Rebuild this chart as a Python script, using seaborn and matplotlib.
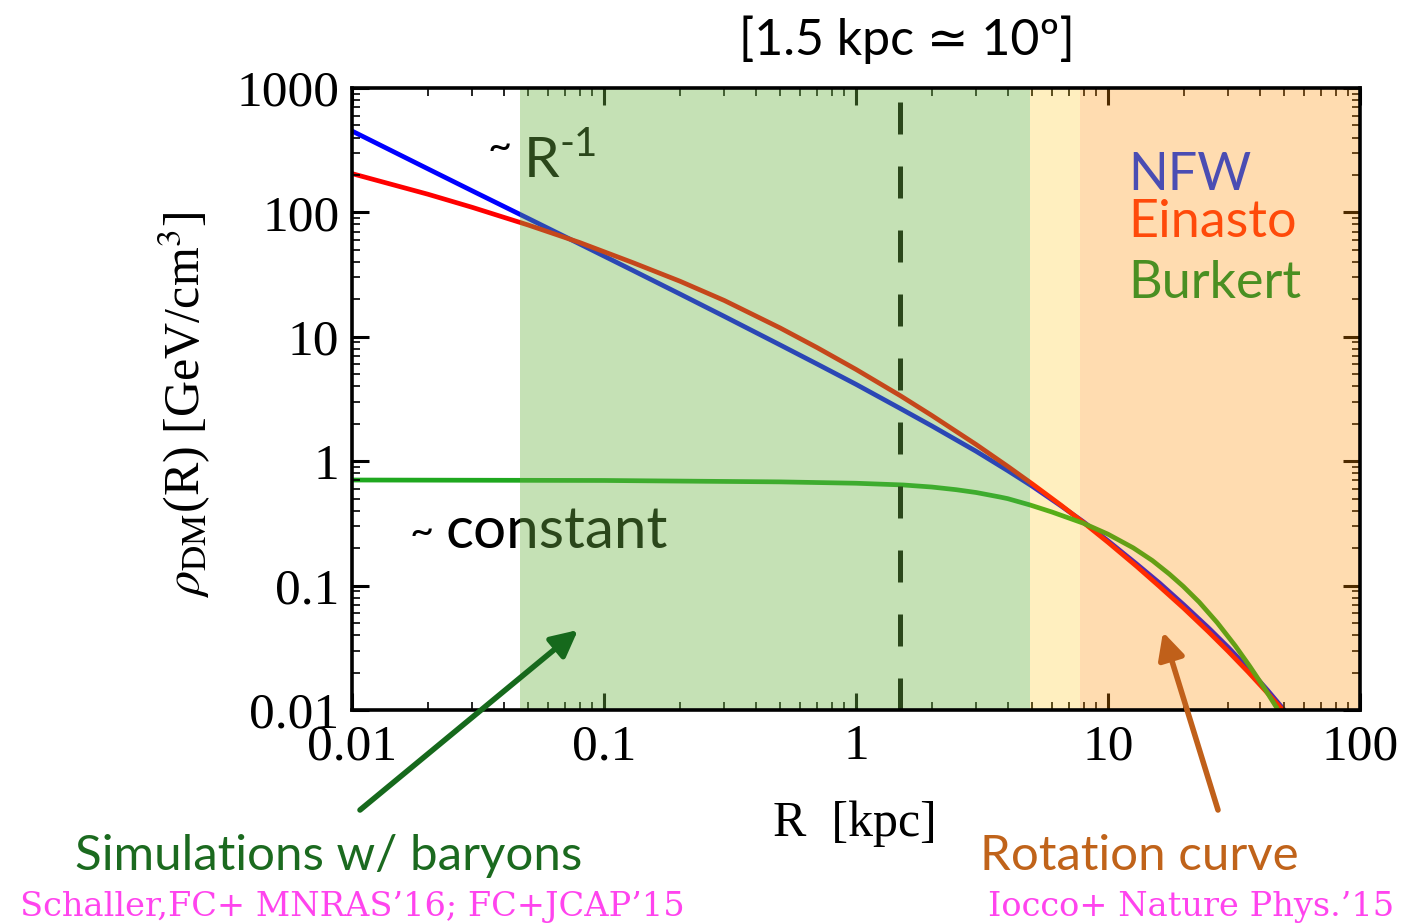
import numpy as np
import pandas as pd
import seaborn as sns
import matplotlib
matplotlib.use("Agg")
import matplotlib.pyplot as plt
from matplotlib.ticker import LogLocator, NullFormatter, FixedLocator, FixedFormatter

# Dark-matter density profiles, rho_DM(R) in GeV/cm^3 versus R in kpc
r_nfw = [0.01, 0.02, 0.03, 0.05, 0.08, 0.13, 0.2, 0.3, 0.5, 0.7, 1.0, 1.5, 2.0, 3.0, 4.0, 5.0,
         6.5, 8.0, 10.0, 13.0, 16.0, 20.0, 25.0, 30.0, 36.0, 43.0, 50.0]
rho_nfw = [451, 224, 149, 89.5, 55.8, 34.2, 22.1, 14.6, 8.6, 6.05, 4.15, 2.65, 1.92, 1.2, 0.84,
           0.63, 0.438, 0.325, 0.229, 0.149, 0.105, 0.070, 0.0459, 0.0319, 0.0216, 0.0144,
           0.0100]

r_einasto = [0.01, 0.02, 0.03, 0.05, 0.08, 0.13, 0.2, 0.3, 0.5, 0.7, 1.0, 1.5, 2.0, 3.0, 4.0,
             5.0, 6.5, 8.0, 10.0, 13.0, 16.0, 20.0, 25.0, 30.0, 36.0, 43.0, 50.0]
rho_einasto = [205, 140, 109.8, 79.2, 57.3, 39.5, 28.0, 19.6, 11.78, 8.2, 5.47, 3.36, 2.33, 1.36,
               0.909, 0.658, 0.444, 0.3206, 0.2228, 0.1426, 0.0985, 0.0656, 0.0427, 0.0296,
               0.0202, 0.01366, 0.00969]

r_burkert = [0.01, 0.1, 0.24, 0.5, 1.0, 1.54, 2.0, 2.5, 3.0, 3.73, 4.0, 4.9, 6.0, 7.96, 10.0,
             12.6, 15.0, 17.5, 19.9, 23.0, 27.1, 32.0, 36.5, 42.0, 46.9]
rho_burkert = [0.706, 0.70, 0.69, 0.682, 0.665, 0.644, 0.62, 0.59, 0.56, 0.515, 0.50, 0.445,
               0.39, 0.318, 0.259, 0.201, 0.159, 0.124, 0.0985, 0.0737, 0.0505, 0.0328,
               0.0225, 0.0147, 0.0103]

profiles = ["NFW", "Einasto", "Burkert"]
profile_colors = {"NFW": "#0000ff", "Einasto": "#ff0000", "Burkert": "#1fa81f"}
label_colors = {"NFW": "#4a4db3", "Einasto": "#ff4a0a", "Burkert": "#4a8f22"}

x_ticks = [0.01, 0.1, 1, 10, 100]
x_ticklabels = ["0.01", "0.1", "1", "10", "100"]
y_ticks = [0.01, 0.1, 1, 10, 100, 1000]
y_ticklabels = ["0.01", "0.1", "1", "10", "100", "1000"]

# Radial ranges probed by simulations (green), transition (yellow), rotation curves (orange)
sim_range = (0.0464, 4.9)
mid_range = (4.9, 7.76)
rc_range = (7.76, 100)
r_angle = 1.5  # kpc, corresponding to 10 degrees

df = pd.concat([
    pd.DataFrame({"R": r_nfw, "rho": rho_nfw, "profile": "NFW"}),
    pd.DataFrame({"R": r_einasto, "rho": rho_einasto, "profile": "Einasto"}),
    pd.DataFrame({"R": r_burkert, "rho": rho_burkert, "profile": "Burkert"}),
], ignore_index=True)

sns.set_theme(style="white")
plt.rcParams["font.family"] = ["Liberation Serif", "DejaVu Serif"]
plt.rcParams["mathtext.fontset"] = "stix"

W, H = 1422, 923
fig = plt.figure(figsize=(W / 100, H / 100), dpi=100)
ax = fig.add_axes([352 / W, 1 - 710 / H, (1360 - 352) / W, (710 - 88) / H])

for i, name in enumerate(profiles):
    sns.lineplot(data=df[df["profile"] == name], x="R", y="rho", color=profile_colors[name],
                 lw=3.4, estimator=None, sort=True, legend=False, ax=ax, zorder=2 + i * 0.1)

ax.axvline(r_angle, color="black", lw=3.6, dashes=(6.4, 6.4), zorder=3)

ax.set_xscale("log")
ax.set_yscale("log")
ax.set_xlim(0.01, 100)
ax.set_ylim(0.01, 1000)
ax.set_xlabel("")
ax.set_ylabel("")

ax.xaxis.set_major_locator(FixedLocator(x_ticks))
ax.xaxis.set_major_formatter(FixedFormatter(x_ticklabels))
ax.yaxis.set_major_locator(FixedLocator(y_ticks))
ax.yaxis.set_major_formatter(FixedFormatter(y_ticklabels))
for axis in (ax.xaxis, ax.yaxis):
    axis.set_minor_locator(LogLocator(base=10, subs=np.arange(2, 10), numticks=20))
    axis.set_minor_formatter(NullFormatter())
ax.tick_params(which="both", direction="in", top=True, right=True, bottom=True, left=True,
               colors="black")
ax.tick_params(which="major", length=12, width=2.2, labelsize=37)
ax.tick_params(which="minor", length=6, width=1.2)
ax.tick_params(axis="x", which="major", pad=10)
ax.tick_params(axis="y", which="major", pad=9)
ax.xaxis.set_zorder(4)
ax.yaxis.set_zorder(4)
for sp in ax.spines.values():
    sp.set_linewidth(2.6)
    sp.set_color("black")
    sp.set_zorder(7)

# Translucent bands laid over curves and labels
ax.axvspan(*sim_range, color=(110 / 255, 180 / 255, 70 / 255), alpha=0.4, lw=0, zorder=5)
ax.axvspan(*mid_range, color=(1.0, 194 / 255, 0.0), alpha=0.25, lw=0, zorder=5)
ax.axvspan(*rc_range, color=(1.0, 142 / 255, 0.0), alpha=0.31, lw=0, zorder=5)

sans = ["Lato", "DejaVu Sans"]


def fx(x):
    return x / W


def fy(y):
    return 1 - y / H


# Labels inside the frame (sit under the bands)
ax.text(fx(500), fy(160), "~", transform=fig.transFigure, family=sans, fontsize=30,
        ha="center", va="baseline", color="black", zorder=4)
ax.text(fx(524), fy(177), "R", transform=fig.transFigure, family=sans, fontsize=41,
        ha="left", va="baseline", color="black", zorder=4)
ax.text(fx(560), fy(156), "-1", transform=fig.transFigure, family=sans, fontsize=29,
        ha="left", va="baseline", color="black", zorder=4)
ax.text(fx(422), fy(545), "~", transform=fig.transFigure, family=sans, fontsize=30,
        ha="center", va="baseline", color="black", zorder=4)
ax.text(fx(446), fy(548), "constant", transform=fig.transFigure, family=sans, fontsize=42,
        ha="left", va="baseline", color="black", zorder=4)

for name, yb in zip(profiles, [190, 237, 298]):
    ax.text(fx(1128), fy(yb), name, transform=fig.transFigure, family=sans, fontsize=37.5,
            ha="left", va="baseline", color=label_colors[name], zorder=8)

# Title, axis labels and notes outside the frame
fig.text(fx(907), fy(55), "[1.5 kpc \u2243 10\u00ba]", family=sans, fontsize=36,
         ha="center", va="baseline", color="black")
fig.text(fx(855), fy(836), "R  [kpc]", fontsize=36, ha="center", va="baseline", color="black")
fig.text(fx(185), fy(405), r"$\rho_{\rm DM}$(R) [GeV/cm$^3$]", fontsize=36, rotation=90,
         ha="center", va="center", color="black")

fig.text(fx(75), fy(870), "Simulations w/ baryons", family=sans, fontsize=35.5,
         ha="left", va="baseline", color="#1b6a1f")
fig.text(fx(980), fy(870), "Rotation curve", family=sans, fontsize=35.5,
         ha="left", va="baseline", color="#c0631a")
fig.text(fx(20), fy(916), "Schaller,FC+ MNRAS\u201916; FC+JCAP\u201915",
         family=["DejaVu Serif"], fontsize=24.2, ha="left", va="baseline", color="#ff44ee")
fig.text(fx(988), fy(916), "Iocco+ Nature Phys.\u201915",
         family=["DejaVu Serif"], fontsize=24.2, ha="left", va="baseline", color="#ff44ee")

ax.annotate("", xy=(578, H - 630), xytext=(360, H - 810), xycoords="figure pixels",
            textcoords="figure pixels", annotation_clip=False, zorder=10,
            arrowprops=dict(arrowstyle="-|>", color="#16691c", lw=4, mutation_scale=40,
                            shrinkA=0, shrinkB=0))
ax.annotate("", xy=(1163, H - 632), xytext=(1218, H - 810), xycoords="figure pixels",
            textcoords="figure pixels", annotation_clip=False, zorder=10,
            arrowprops=dict(arrowstyle="-|>", color="#c0601a", lw=4, mutation_scale=40,
                            shrinkA=0, shrinkB=0))

fig.savefig("out.png", dpi=100)
